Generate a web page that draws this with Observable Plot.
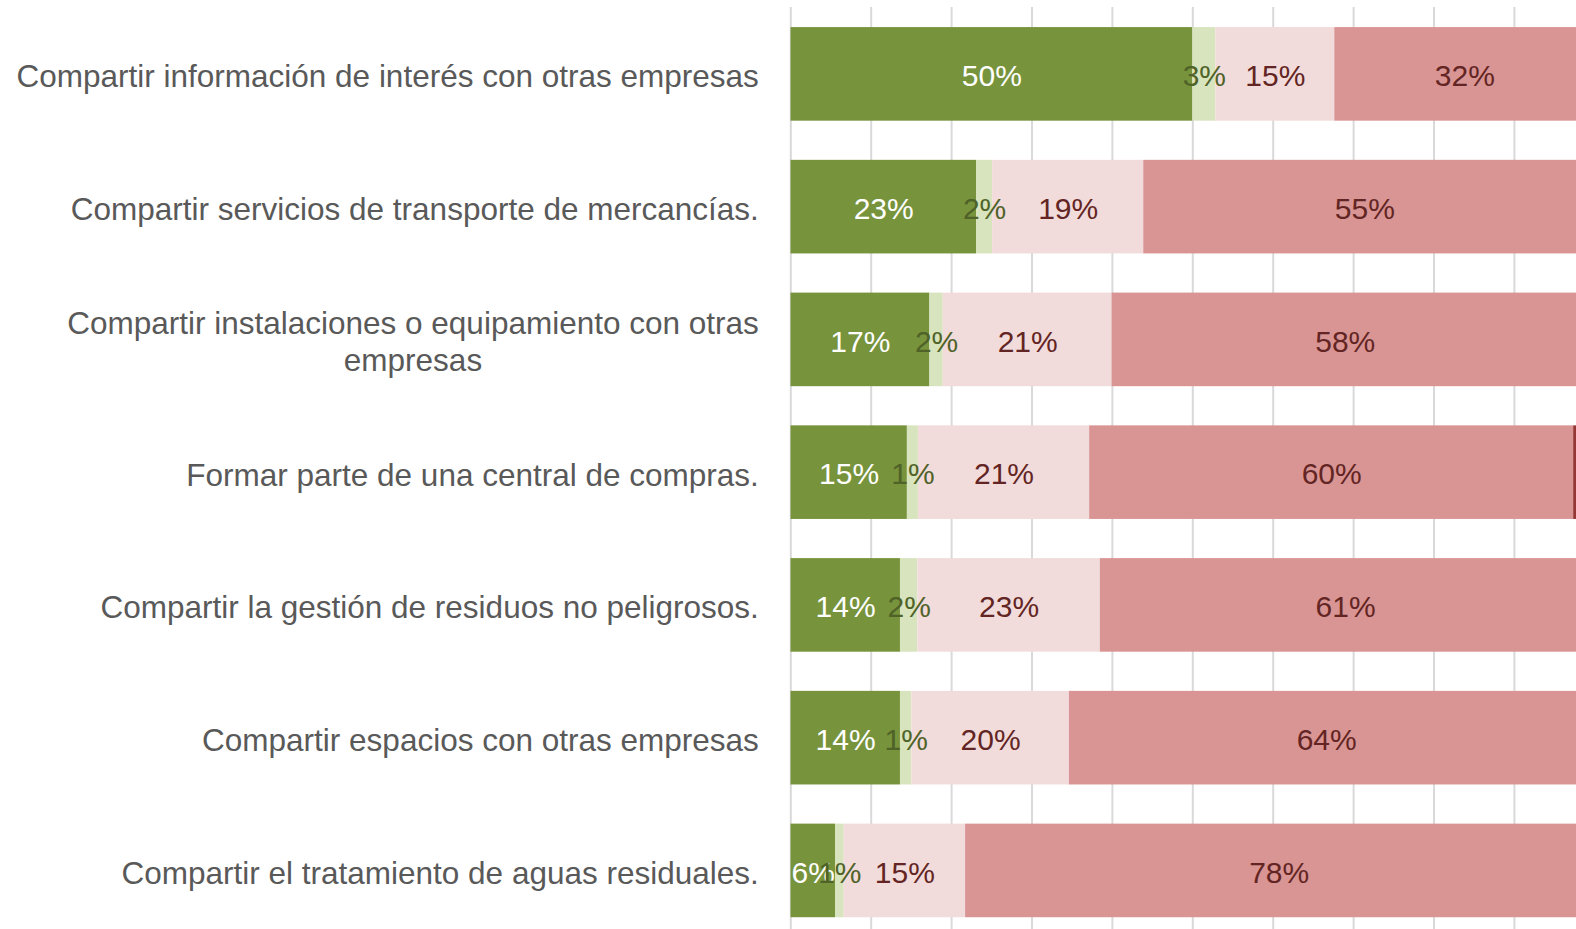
<!DOCTYPE html>
<html>
<head>
<meta charset="utf-8">
<script src="https://cdn.jsdelivr.net/npm/d3@7"></script>
<script src="https://cdn.jsdelivr.net/npm/@observablehq/plot@0.6"></script>
<style>
  html, body { margin: 0; padding: 0; background: #ffffff; overflow: hidden; }
  #chart svg { display: block; }
</style>
</head>
<body>
<div id="chart"></div>
<script>
// Categories (top to bottom)
const categories = [
  "Compartir información de interés con otras empresas",
  "Compartir servicios de transporte de mercancías.",
  "Compartir instalaciones o equipamiento con otras\nempresas",
  "Formar parte de una central de compras.",
  "Compartir la gestión de residuos no peligrosos.",
  "Compartir espacios con otras empresas",
  "Compartir el tratamiento de aguas residuales."
];

// Segment names (stack order, left to right)
const segments = ["Sí", "En proyecto", "No, pero le interesaría", "No", "NS/NC"];

// Series values (% of companies)
const serieSi        = [50.0, 23.1, 17.3, 14.5, 13.64, 13.64, 5.56];
const serieProyecto  = [2.86, 2.0, 1.66, 1.37, 2.16, 1.41, 1.08];
const serieInteresa  = [14.8, 18.8, 21.0, 21.3, 22.7, 19.6, 15.1];
const serieNo        = [32.34, 55.0, 58.0, 60.2, 61.0, 64.0, 78.0];
const serieNsNc      = [0, 0, 0, 2.6, 0, 0, 0];

const seriesList = [serieSi, serieProyecto, serieInteresa, serieNo, serieNsNc];
const segmentColors = ["#77933c", "#d7e4bd", "#f2dcdb", "#d99594", "#953735"];
const labelColors = ["#ffffff", "#4f6228", "#632523", "#632523", null];

// Build tidy table
const rows = [];
categories.forEach((c, i) => {
  segments.forEach((s, j) => {
    rows.push({category: c, segment: s, idx: j, value: seriesList[j][i]});
  });
});

// x scale: 0% at 790.3px, 8.04px per %, frame clipped at the window edge
const xMax = (1576 - 790.3) / 8.04;

const textMarks = segments.map((s, j) => labelColors[j] == null ? null :
  Plot.text(rows, Plot.stackX({
    x: "value",
    y: "category",
    text: d => d.idx === j ? Math.round(d.value) + "%" : null,
    fill: labelColors[j],
    fontSize: 30,
    dy: 2,
    fontFamily: "'Liberation Sans Narrow', 'Liberation Sans', sans-serif",
    clip: true
  }))
).filter(Boolean);

const chart = Plot.plot({
  width: 1576,
  height: 929,
  marginLeft: 790.3,
  marginRight: 0,
  marginTop: 7,
  marginBottom: 0,
  style: {fontFamily: "'Liberation Sans', sans-serif", background: "#ffffff"},
  x: {domain: [0, xMax], axis: null},
  y: {domain: categories, range: [7.5, 936.8], paddingInner: 0.295, paddingOuter: 0.1475, round: false, axis: null},
  color: {domain: segments, range: segmentColors},
  marks: [
    Plot.gridX(d3.range(0, 100, 10), {stroke: "#d9d9d9", strokeOpacity: 1, strokeWidth: 2}),
    Plot.barX(rows, Plot.stackX({
      x: "value",
      y: "category",
      fill: "segment",
      clip: true
    })),
    ...textMarks,
    Plot.axisY({
      label: null,
      tickSize: 0,
      tickPadding: 32,
      fontSize: 31.5,
      lineHeight: 1.18,
      dy: 1,
      fill: "#595959",
      fontFamily: "'Liberation Sans', sans-serif"
    })
  ]
});

document.getElementById("chart").appendChild(chart);

// Center multi-line category labels within their block (as in the original)
d3.select(chart).selectAll("text").each(function() {
  const tspans = this.querySelectorAll("tspan");
  if (tspans.length > 1) {
    let maxW = 0;
    tspans.forEach(t => { maxW = Math.max(maxW, t.getComputedTextLength()); });
    this.setAttribute("text-anchor", "middle");
    tspans.forEach(t => t.setAttribute("x", -maxW / 2));
  }
});
</script>
</body>
</html>
